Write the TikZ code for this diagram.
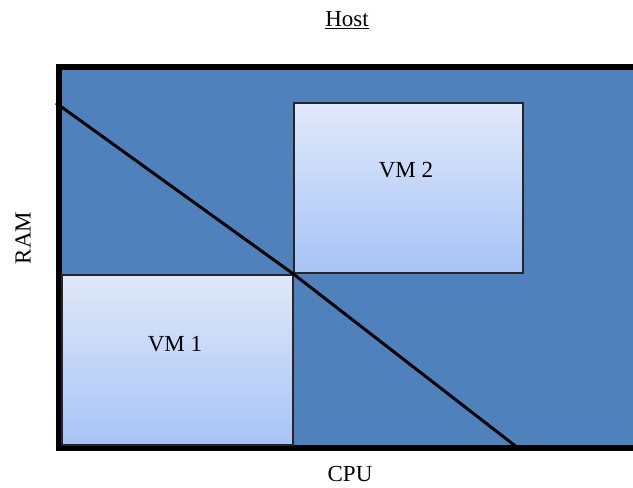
\documentclass[tikz,border=0pt]{standalone}
\usepackage{fontspec}
\setmainfont{Liberation Serif}
\usetikzlibrary{positioning,shadows}

\definecolor{hostblue}{HTML}{4F81BD}
\definecolor{vmtop}{HTML}{E0E8FA}
\definecolor{vmbottom}{HTML}{A7C4F6}

\tikzset{
    vmbox/.style={draw=black!85, line width=1.5pt, top color=vmtop, bottom color=vmbottom,
        drop shadow={opacity=.35, shadow xshift=1pt, shadow yshift=-1pt}},
    lbl/.style={font=\fontsize{23}{27}\selectfont, inner sep=0pt}
}

\begin{document}
\begin{tikzpicture}[x=1pt, y=-1pt]
\useasboundingbox (0,0) rectangle (633,488);
\clip (0,0) rectangle (633,488);
% host frame
\node[draw, line width=6pt, fill=hostblue, minimum width=581pt, minimum height=381pt] (host) at (349.5,257.5) {};
\node[lbl] (hostlbl) at (347,20) {\underline{Host}};
\node[lbl, rotate=90] (ram) at (23,238) {RAM};
\node[lbl] (cpu) at (350,474) {CPU};
% virtual machines
\node[vmbox, minimum width=229pt, minimum height=170pt] (vm2) at (408.5,188) {};
\node[vmbox, minimum width=231pt, minimum height=170pt] (vm1) at (177.5,360) {};
\node[lbl] (vm2lbl) at (406,170) {VM 2};
\node[lbl] (vm1lbl) at (175,344) {VM 1};
% split line
\coordinate (start) at (host.west |- 0,103);
\coordinate (stop) at (518,448);
\draw[line width=3pt] (start) -- (vm1.north east) -- (stop);
\end{tikzpicture}
\end{document}
